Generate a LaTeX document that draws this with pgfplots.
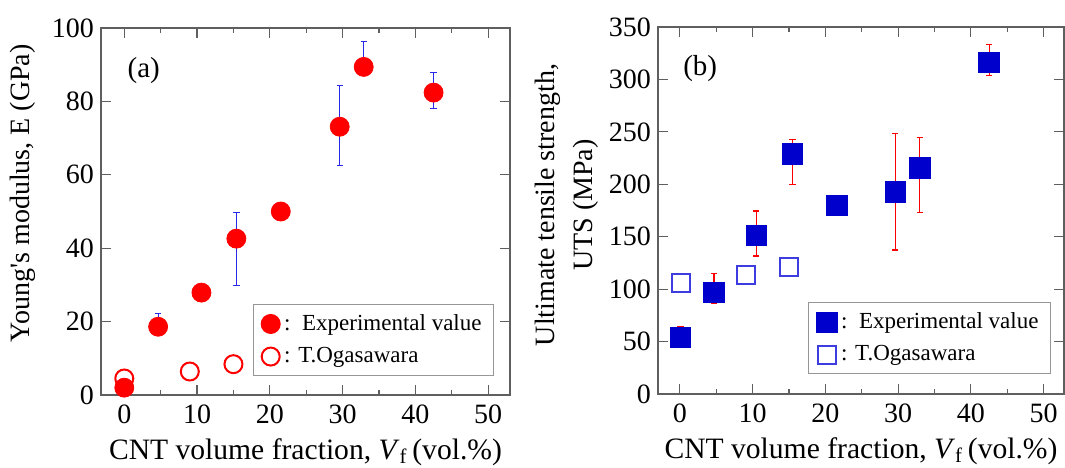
\documentclass[border=0pt]{standalone}
\usepackage{fontspec}
\setmainfont{Liberation Serif}
\usepackage{pgfplots}
\pgfplotsset{compat=1.18}

\definecolor{myred}{RGB}{255,0,0}
\definecolor{myblue}{RGB}{0,0,205}
\definecolor{oblue}{RGB}{60,60,225}
\definecolor{ebblue}{RGB}{40,40,235}
\definecolor{axgray}{RGB}{95,95,95}
\definecolor{leggray}{RGB}{150,150,150}

\pgfplotsset{
 myaxis/.style={
  scale only axis, height=183.5pt,
  xtick={0,10,...,50}, minor x tick num=1,
  tick align=inside, xtick pos=both, ytick pos=both,
  major tick length=5pt, minor tick length=2.4pt,
  tick style={axgray, line width=0.6pt},
  axis line style={axgray, line width=0.8pt},
  tick label style={font=\fontsize{14}{16}\selectfont},
  xticklabel style={yshift=-1.2pt},
  /pgf/number format/assume math mode=true,
  label style={font=\fontsize{14}{19}\selectfont},
  xlabel={CNT volume fraction, \textit{V}\textsubscript{f}\,(vol.\%)},
  xlabel style={at={(axis description cs:0.5,0)}, anchor=base, yshift=-32pt, font=\fontsize{14.8}{18}\selectfont},
  legend style={draw=leggray, line width=0.5pt, font=\fontsize{11.5}{14}\selectfont,
    cells={anchor=west}, inner xsep=4pt, inner ysep=3pt, row sep=3pt},
 }
}

\begin{document}
\begin{tikzpicture}
\path[use as bounding box] (-50.5pt,-36pt) rectangle (482pt,197.5pt);

% (a) Young's modulus
\begin{axis}[myaxis, at={(0pt,0pt)}, anchor=south west, width=204.5pt,
  xmin=-3.2, xmax=53, ymin=0, ymax=100, ytick={0,20,...,100},
  ylabel={Young\textquotesingle s modulus, E (GPa)},
  ylabel style={at={(axis description cs:-0.19,0.55)}, anchor=center},
  legend style={at={(0.961,0.248)}, anchor=north east}]
\addlegendimage{only marks, mark=*, mark size=4.75pt, draw=myred, fill=myred}
\addlegendentry{:~~Experimental value}
\addlegendimage{only marks, mark=o, mark size=4.5pt, draw=myred, line width=1pt}
\addlegendentry{: T.Ogasawara}
% error bars
\addplot[only marks, mark=none, forget plot,
  error bars/.cd, y dir=both, y explicit,
  error bar style={draw=ebblue, line width=0.55pt, solid},
  error mark options={draw=ebblue, mark size=1.6pt, line width=0.55pt, rotate=90}]
coordinates {
(4.65,18.6) += (0,3.5) -= (0,1)
(10.6,27.9) += (0,1) -= (0,2.5)
(15.4,42.6) += (0,7.1) -= (0,12.8)
(29.6,73.1) += (0,11.2) -= (0,10.5)
(32.9,89.4) += (0,6.9) -= (0,1)
(42.5,82.4) += (0,5.5) -= (0,4.4)
};
% T.Ogasawara
\addplot[only marks, mark=o, mark size=4.5pt, draw=myred, line width=1pt, forget plot]
coordinates {(0,4.5) (9.0,6.4) (15.0,8.4)};
% Experimental
\addplot[only marks, mark=*, mark size=4.75pt, draw=myred, fill=myred, forget plot]
coordinates {(0,2.0) (4.65,18.6) (10.6,27.9) (15.4,42.6) (21.5,50.0) (29.6,73.1) (32.9,89.4) (42.5,82.4)};
\node[anchor=west, font=\fontsize{14.5}{17}\selectfont] at (rel axis cs:0.048,0.883) {(a)};
\end{axis}

% (b) UTS
\begin{axis}[myaxis, at={(278.5pt,0.5pt)}, anchor=south west, width=203pt,
  xmin=-3, xmax=52.8, ymin=0, ymax=350, ytick={0,50,...,350},
  ylabel={Ultimate tensile strength,\\UTS (MPa)},
  ylabel style={align=center, at={(axis description cs:-0.225,0.515)}, anchor=center},
  legend style={at={(0.968,0.25)}, anchor=north east}]
\addlegendimage{only marks, mark=square*, mark size=5.1pt, draw=myblue, fill=myblue}
\addlegendentry{:~~Experimental value}
\addlegendimage{only marks, mark=square, mark size=4.5pt, draw=oblue, line width=1pt}
\addlegendentry{: T.Ogasawara}
% error bars
\addplot[only marks, mark=none, forget plot,
  error bars/.cd, y dir=both, y explicit,
  error bar style={draw=myred, line width=0.55pt, solid},
  error mark options={draw=myred, mark size=1.6pt, line width=0.55pt, rotate=90}]
coordinates {
(0.1,54.2) += (0,10) -= (0,3)
(4.7,96.7) += (0,17.8) -= (0,10.8)
(10.5,151.3) += (0,23.2) -= (0,19.7)
(15.5,228.8) += (0,13.9) -= (0,28.6)
(29.6,192.6) += (0,55.8) -= (0,55.3)
(33.0,215.7) += (0,29.0) -= (0,42.8)
(42.5,316.4) += (0,16.8) -= (0,12.7)
};
% T.Ogasawara
\addplot[only marks, mark=square, mark size=4.5pt, draw=oblue, line width=1pt, forget plot]
coordinates {(0.1,106.2) (9.1,113.5) (15.0,121.4)};
% Experimental
\addplot[only marks, mark=square*, mark size=5.1pt, draw=myblue, fill=myblue, forget plot]
coordinates {(0.1,54.2) (4.7,96.7) (10.5,151.3) (15.5,228.8) (21.6,179.9) (29.6,192.6) (33.0,215.7) (42.5,316.4)};
\node[anchor=west, font=\fontsize{14.5}{17}\selectfont] at (rel axis cs:0.045,0.888) {(b)};
\end{axis}
\end{tikzpicture}
\end{document}
